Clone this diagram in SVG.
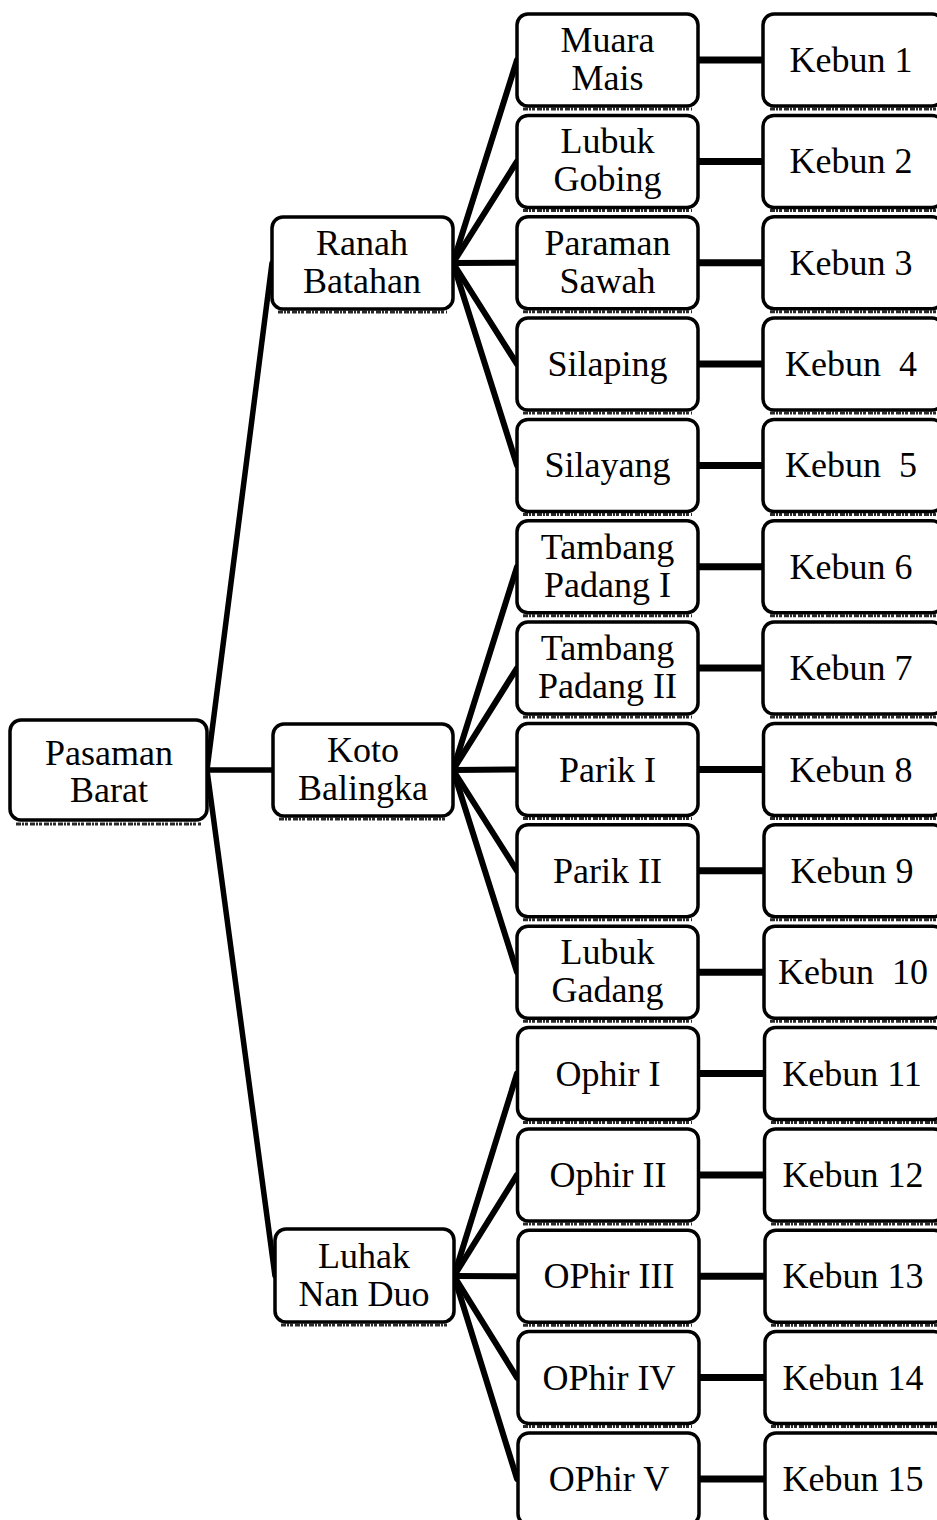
<svg xmlns="http://www.w3.org/2000/svg" width="937" height="1520" viewBox="0 0 937 1520">
  <style>
    .box { fill: #ffffff; stroke: #000000; stroke-width: 3.5; }
    .shadow { stroke: #2a2a2a; stroke-width: 3; stroke-dasharray: 5 1 2 1 3 2; fill: none; }
    .lbl { font-family: "Liberation Serif", "Times New Roman", serif; font-size: 36px; fill: #000000; text-anchor: middle; white-space: pre; }
    .edge { stroke: #000000; fill: none; stroke-linecap: round; }
    .e1 { stroke-width: 5.5; }
    .e2 { stroke-width: 6; }
    .e3 { stroke-width: 7; stroke-linecap: butt; }
  </style>
  <rect width="937" height="1520" fill="#ffffff"/>

  <!-- connectors -->
  <g id="connectors">
    <!-- root to districts -->
    <line class="edge e1" x1="207" y1="770" x2="272" y2="263"/>
    <line class="edge e1" x1="207" y1="770" x2="273" y2="770"/>
    <line class="edge e1" x1="207" y1="770" x2="275" y2="1276"/>
    <!-- Ranah Batahan to villages -->
    <line class="edge e2" x1="453" y1="263" x2="517" y2="60"/>
    <line class="edge e2" x1="453" y1="263" x2="517" y2="161.4"/>
    <line class="edge e2" x1="453" y1="263" x2="517" y2="262.7"/>
    <line class="edge e2" x1="453" y1="263" x2="517" y2="364.1"/>
    <line class="edge e2" x1="453" y1="263" x2="517" y2="465.4"/>
    <!-- Koto Balingka to villages -->
    <line class="edge e2" x1="453" y1="770" x2="517" y2="566.8"/>
    <line class="edge e2" x1="453" y1="770" x2="517" y2="668.1"/>
    <line class="edge e2" x1="453" y1="770" x2="517" y2="769.5"/>
    <line class="edge e2" x1="453" y1="770" x2="517" y2="870.8"/>
    <line class="edge e2" x1="453" y1="770" x2="517" y2="972.2"/>
    <!-- Luhak Nan Duo to villages -->
    <line class="edge e2" x1="454" y1="1276" x2="517" y2="1073.5"/>
    <line class="edge e2" x1="454" y1="1276" x2="517" y2="1174.9"/>
    <line class="edge e2" x1="454" y1="1276" x2="517" y2="1276.2"/>
    <line class="edge e2" x1="454" y1="1276" x2="517" y2="1377.6"/>
    <line class="edge e2" x1="454" y1="1276" x2="517" y2="1478.9"/>
    <!-- villages to plantations -->
    <line class="edge e3" x1="698" y1="60" x2="764" y2="60"/>
    <line class="edge e3" x1="698" y1="161.4" x2="764" y2="161.4"/>
    <line class="edge e3" x1="698" y1="262.7" x2="764" y2="262.7"/>
    <line class="edge e3" x1="698" y1="364.1" x2="764" y2="364.1"/>
    <line class="edge e3" x1="698" y1="465.4" x2="764" y2="465.4"/>
    <line class="edge e3" x1="698" y1="566.8" x2="764" y2="566.8"/>
    <line class="edge e3" x1="698" y1="668.1" x2="764" y2="668.1"/>
    <line class="edge e3" x1="698" y1="769.5" x2="764" y2="769.5"/>
    <line class="edge e3" x1="698" y1="870.8" x2="764" y2="870.8"/>
    <line class="edge e3" x1="698" y1="972.2" x2="764" y2="972.2"/>
    <line class="edge e3" x1="698" y1="1073.5" x2="764" y2="1073.5"/>
    <line class="edge e3" x1="698" y1="1174.9" x2="764" y2="1174.9"/>
    <line class="edge e3" x1="698" y1="1276.2" x2="764" y2="1276.2"/>
    <line class="edge e3" x1="698" y1="1377.6" x2="764" y2="1377.6"/>
    <line class="edge e3" x1="698" y1="1478.9" x2="764" y2="1478.9"/>
  </g>

  <!-- root -->
  <g id="pasaman-barat">
    <line class="shadow" x1="16" y1="824" x2="201" y2="824"/>
    <rect class="box" x="10" y="720" width="197" height="100" rx="11"/>
    <text class="lbl" x="109" y="765">Pasaman</text>
    <text class="lbl" x="109" y="802">Barat</text>
  </g>

  <!-- districts -->
  <g id="ranah-batahan">
    <line class="shadow" x1="278" y1="312" x2="447" y2="312"/>
    <rect class="box" x="272" y="217" width="181" height="92" rx="11"/>
    <text class="lbl" x="362" y="255">Ranah</text>
    <text class="lbl" x="362" y="293">Batahan</text>
  </g>
  <g id="koto-balingka">
    <line class="shadow" x1="279" y1="819" x2="447" y2="819"/>
    <rect class="box" x="273" y="724" width="180" height="92" rx="11"/>
    <text class="lbl" x="363" y="762">Koto</text>
    <text class="lbl" x="363" y="800">Balingka</text>
  </g>
  <g id="luhak-nan-duo">
    <line class="shadow" x1="281" y1="1325" x2="448" y2="1325"/>
    <rect class="box" x="275" y="1229" width="179" height="93" rx="11"/>
    <text class="lbl" x="364" y="1268">Luhak</text>
    <text class="lbl" x="364" y="1306">Nan Duo</text>
  </g>

  <!-- villages -->
  <g id="muara-mais">
    <line class="shadow" x1="523" y1="109" x2="692" y2="109"/>
    <rect class="box" x="517" y="14" width="181" height="92" rx="11"/>
    <text class="lbl" x="607.5" y="52">Muara</text>
    <text class="lbl" x="607.5" y="90">Mais</text>
  </g>
  <g id="lubuk-gobing">
    <line class="shadow" x1="523" y1="210.4" x2="692" y2="210.4"/>
    <rect class="box" x="517" y="115.4" width="181" height="92" rx="11"/>
    <text class="lbl" x="607.5" y="153.4">Lubuk</text>
    <text class="lbl" x="607.5" y="191.4">Gobing</text>
  </g>
  <g id="paraman-sawah">
    <line class="shadow" x1="523" y1="311.7" x2="692" y2="311.7"/>
    <rect class="box" x="517" y="216.7" width="181" height="92" rx="11"/>
    <text class="lbl" x="607.5" y="254.7">Paraman</text>
    <text class="lbl" x="607.5" y="292.7">Sawah</text>
  </g>
  <g id="silaping">
    <line class="shadow" x1="523" y1="413.1" x2="692" y2="413.1"/>
    <rect class="box" x="517" y="318.1" width="181" height="92" rx="11"/>
    <text class="lbl" x="607.5" y="376.1">Silaping</text>
  </g>
  <g id="silayang">
    <line class="shadow" x1="523" y1="514.4" x2="692" y2="514.4"/>
    <rect class="box" x="517" y="419.4" width="181" height="92" rx="11"/>
    <text class="lbl" x="607.5" y="477.4">Silayang</text>
  </g>
  <g id="tambang-padang-1">
    <line class="shadow" x1="523" y1="615.8" x2="692" y2="615.8"/>
    <rect class="box" x="517" y="520.8" width="181" height="92" rx="11"/>
    <text class="lbl" x="607.5" y="558.8">Tambang</text>
    <text class="lbl" x="607.5" y="596.8">Padang I</text>
  </g>
  <g id="tambang-padang-2">
    <line class="shadow" x1="523" y1="717.1" x2="692" y2="717.1"/>
    <rect class="box" x="517" y="622.1" width="181" height="92" rx="11"/>
    <text class="lbl" x="607.5" y="660.1">Tambang</text>
    <text class="lbl" x="607.5" y="698.1">Padang II</text>
  </g>
  <g id="parik-1">
    <line class="shadow" x1="523" y1="818.5" x2="692" y2="818.5"/>
    <rect class="box" x="517" y="723.5" width="181" height="92" rx="11"/>
    <text class="lbl" x="607.5" y="781.5">Parik I</text>
  </g>
  <g id="parik-2">
    <line class="shadow" x1="523" y1="919.8" x2="692" y2="919.8"/>
    <rect class="box" x="517" y="824.8" width="181" height="92" rx="11"/>
    <text class="lbl" x="607.5" y="882.8">Parik II</text>
  </g>
  <g id="lubuk-gadang">
    <line class="shadow" x1="523" y1="1021.2" x2="692" y2="1021.2"/>
    <rect class="box" x="517" y="926.2" width="181" height="92" rx="11"/>
    <text class="lbl" x="607.5" y="964.2">Lubuk</text>
    <text class="lbl" x="607.5" y="1002.2">Gadang</text>
  </g>
  <g id="ophir-1">
    <line class="shadow" x1="523" y1="1122.5" x2="692" y2="1122.5"/>
    <rect class="box" x="517.5" y="1027.5" width="181" height="92" rx="11"/>
    <text class="lbl" x="608" y="1085.5">Ophir I</text>
  </g>
  <g id="ophir-2">
    <line class="shadow" x1="523" y1="1223.9" x2="692" y2="1223.9"/>
    <rect class="box" x="517.5" y="1128.9" width="181" height="92" rx="11"/>
    <text class="lbl" x="608" y="1186.9">Ophir II</text>
  </g>
  <g id="ophir-3">
    <line class="shadow" x1="523" y1="1325.2" x2="692" y2="1325.2"/>
    <rect class="box" x="518" y="1230.2" width="181" height="92" rx="11"/>
    <text class="lbl" x="609" y="1288.2">OPhir III</text>
  </g>
  <g id="ophir-4">
    <line class="shadow" x1="523" y1="1426.6" x2="692" y2="1426.6"/>
    <rect class="box" x="518" y="1331.6" width="181" height="92" rx="11"/>
    <text class="lbl" x="609" y="1389.6">OPhir IV</text>
  </g>
  <g id="ophir-5">
    <rect class="box" x="518" y="1432.9" width="181" height="92" rx="11"/>
    <text class="lbl" x="609" y="1490.9">OPhir V</text>
  </g>

  <!-- plantations -->
  <g id="kebun-1">
    <line class="shadow" x1="770" y1="109" x2="937" y2="109"/>
    <rect class="box" x="763" y="14" width="180" height="92" rx="11"/>
    <text class="lbl" x="851" y="72">Kebun 1</text>
  </g>
  <g id="kebun-2">
    <line class="shadow" x1="770" y1="210.4" x2="937" y2="210.4"/>
    <rect class="box" x="763" y="115.4" width="180" height="92" rx="11"/>
    <text class="lbl" x="851" y="173.4">Kebun 2</text>
  </g>
  <g id="kebun-3">
    <line class="shadow" x1="770" y1="311.7" x2="937" y2="311.7"/>
    <rect class="box" x="763" y="216.7" width="180" height="92" rx="11"/>
    <text class="lbl" x="851" y="274.7">Kebun 3</text>
  </g>
  <g id="kebun-4">
    <line class="shadow" x1="770" y1="413.1" x2="937" y2="413.1"/>
    <rect class="box" x="763" y="318.1" width="180" height="92" rx="11"/>
    <text class="lbl" x="851" y="376.1">Kebun  4</text>
  </g>
  <g id="kebun-5">
    <line class="shadow" x1="770" y1="514.4" x2="937" y2="514.4"/>
    <rect class="box" x="763" y="419.4" width="180" height="92" rx="11"/>
    <text class="lbl" x="851" y="477.4">Kebun  5</text>
  </g>
  <g id="kebun-6">
    <line class="shadow" x1="770" y1="615.8" x2="937" y2="615.8"/>
    <rect class="box" x="763" y="520.8" width="180" height="92" rx="11"/>
    <text class="lbl" x="851" y="578.8">Kebun 6</text>
  </g>
  <g id="kebun-7">
    <line class="shadow" x1="770" y1="717.1" x2="937" y2="717.1"/>
    <rect class="box" x="763" y="622.1" width="180" height="92" rx="11"/>
    <text class="lbl" x="851" y="680.1">Kebun 7</text>
  </g>
  <g id="kebun-8">
    <line class="shadow" x1="770" y1="818.5" x2="937" y2="818.5"/>
    <rect class="box" x="763.5" y="723.5" width="180" height="92" rx="11"/>
    <text class="lbl" x="851" y="781.5">Kebun 8</text>
  </g>
  <g id="kebun-9">
    <line class="shadow" x1="770" y1="919.8" x2="937" y2="919.8"/>
    <rect class="box" x="764" y="824.8" width="180" height="92" rx="11"/>
    <text class="lbl" x="852" y="882.8">Kebun 9</text>
  </g>
  <g id="kebun-10">
    <line class="shadow" x1="770" y1="1021.2" x2="937" y2="1021.2"/>
    <rect class="box" x="764" y="926.2" width="180" height="92" rx="11"/>
    <text class="lbl" x="853" y="984.2">Kebun  10</text>
  </g>
  <g id="kebun-11">
    <line class="shadow" x1="771" y1="1122.5" x2="937" y2="1122.5"/>
    <rect class="box" x="764.5" y="1027.5" width="180" height="92" rx="11"/>
    <text class="lbl" x="852" y="1085.5">Kebun 11</text>
  </g>
  <g id="kebun-12">
    <line class="shadow" x1="771" y1="1223.9" x2="937" y2="1223.9"/>
    <rect class="box" x="764.5" y="1128.9" width="180" height="92" rx="11"/>
    <text class="lbl" x="853" y="1186.9">Kebun 12</text>
  </g>
  <g id="kebun-13">
    <line class="shadow" x1="771" y1="1325.2" x2="937" y2="1325.2"/>
    <rect class="box" x="765" y="1230.2" width="180" height="92" rx="11"/>
    <text class="lbl" x="853" y="1288.2">Kebun 13</text>
  </g>
  <g id="kebun-14">
    <line class="shadow" x1="771" y1="1426.6" x2="937" y2="1426.6"/>
    <rect class="box" x="765" y="1331.6" width="180" height="92" rx="11"/>
    <text class="lbl" x="853" y="1389.6">Kebun 14</text>
  </g>
  <g id="kebun-15">
    <rect class="box" x="765" y="1432.9" width="180" height="92" rx="11"/>
    <text class="lbl" x="853" y="1490.9">Kebun 15</text>
  </g>
</svg>
